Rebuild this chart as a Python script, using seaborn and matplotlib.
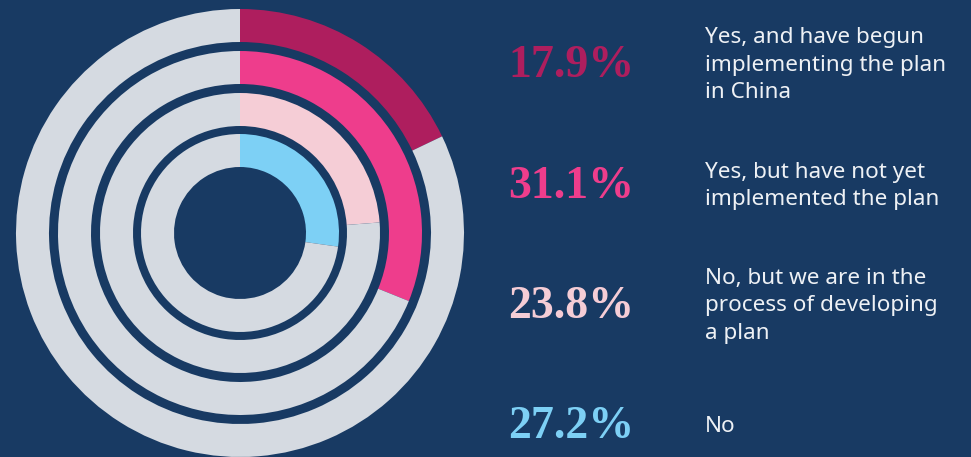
import matplotlib
matplotlib.use("Agg")
import matplotlib.pyplot as plt
import seaborn as sns

# survey answers, outer ring first
answers = ["Yes, and have begun\nimplementing the plan\nin China",
           "Yes, but have not yet\nimplemented the plan",
           "No, but we are in the\nprocess of developing\na plan",
           "No"]
shares = [17.9, 31.1, 23.8, 27.2]
ring_colors = ["#ae1e5e", "#ee3d8c", "#f5cdd6", "#7dd0f5"]

BG = "#183a63"
TRACK = "#d5dae1"

sns.set_theme(style="white")
plt.rcParams["font.family"] = ["Noto Sans", "DejaVu Sans"]

fig = plt.figure(figsize=(9.71, 4.57), dpi=100)
fig.patch.set_facecolor(BG)
ax = fig.add_axes([0, 0, 1, 1])
ax.set_facecolor(BG)

# rings, drawn in pixel units: outer radius and width of each ring
cx, cy = 240, 457 - 233
radii = [224, 182, 140, 99]
ring_w = 33

for share, color, r in zip(shares, ring_colors, radii):
    ax.pie([share, 100 - share], colors=[color, TRACK], startangle=90,
           counterclock=False, center=(cx, cy), radius=r,
           wedgeprops=dict(width=ring_w, linewidth=0))

# percentages and answer text
row_y = [457 - 66, 457 - 187, 457 - 307, 457 - 427]
for share, color, label, y in zip(shares, ring_colors, answers, row_y):
    ax.text(571, y, f"{share:.1f}%", color=color, fontsize=33,
            fontweight="bold", family=["Liberation Serif", "DejaVu Serif"],
            ha="center", va="center")
    ax.text(705, y + 1, label, color="#eef1f5", fontsize=16.2, ha="left",
            va="center", linespacing=1.42)

ax.set_xlim(0, 971)
ax.set_ylim(0, 457)
ax.set_aspect("equal")
ax.axis("off")

fig.savefig("out.png", dpi=100, facecolor=BG)
